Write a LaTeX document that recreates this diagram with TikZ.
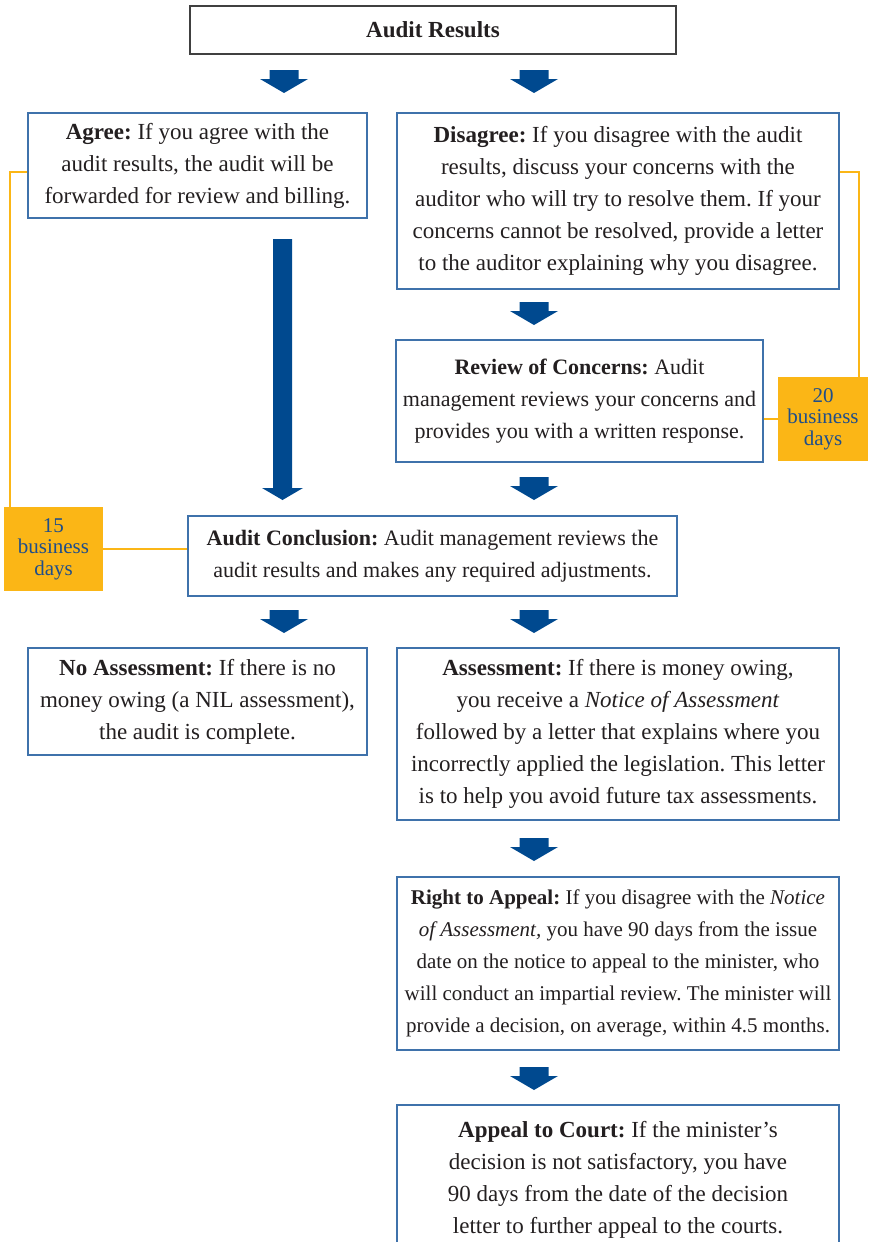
\documentclass[tikz,border=0pt]{standalone}
\usepackage{fontspec}
\setmainfont{Liberation Serif}
\frenchspacing
\definecolor{boxblue}{HTML}{3F72AB}
\definecolor{arrowblue}{HTML}{00498F}
\definecolor{gold}{HTML}{FBB616}
\definecolor{goldtext}{HTML}{1F4E8A}
\definecolor{txt}{HTML}{231F20}
\begin{document}
\begin{tikzpicture}[x=1pt,y=-1pt,
  every node/.style={font=\fontsize{23}{32}\selectfont, text=txt, inner sep=0pt, align=center},
  stagebox/.style={draw=boxblue, line width=1.4pt, fill=white},
  titlebox/.style={draw=black!75, line width=1.4pt},
  daysbox/.style={fill=gold, text=goldtext, font=\fontsize{21}{21.5}\selectfont},
  goldline/.style={draw=gold, line width=2pt},
  fatarrow/.pic={\fill[arrowblue] (-14.5,0) -- (14.5,0) -- (14.5,9) -- (24,9) -- (0,23) -- (-24,9) -- (-14.5,9) -- cycle;}
]
\useasboundingbox (0,0) rectangle (869,1242);
\clip (0,0) rectangle (869,1242);

\node[titlebox, minimum width=486, minimum height=48] (title) at (433,30) {\textbf{Audit Results}};

\node[stagebox, minimum width=339, minimum height=105] (agree) at (197.5,165.5)
 {\textbf{Agree:} If you agree with the\\audit results, the audit will be\\forwarded for review and billing.};

\node[stagebox, minimum width=442, minimum height=176] (disagree) at (618,201)
 {\textbf{Disagree:} If you disagree with the audit\\results, discuss your concerns with the\\auditor who will try to resolve them. If your\\concerns cannot be resolved, provide a letter\\to the auditor explaining why you disagree.};

\node[stagebox, minimum width=367, minimum height=122, font=\fontsize{22}{32}\selectfont] (review) at (579.5,401)
 {\textbf{Review of Concerns:} Audit\\management reviews your concerns and\\provides you with a written response.};

\node[stagebox, minimum width=489, minimum height=80, font=\fontsize{22}{32}\selectfont] (conclusion) at (432.5,556)
 {\textbf{Audit Conclusion:} Audit management reviews the\\audit results and makes any required adjustments.};

\node[stagebox, minimum width=339, minimum height=107] (noassess) at (197.5,701.5)
 {\textbf{No Assessment:} If there is no\\money owing (a NIL assessment),\\the audit is complete.};

\node[stagebox, minimum width=442, minimum height=172] (assess) at (618,734)
 {\textbf{Assessment:} If there is money owing,\\you receive a \textit{Notice of Assessment}\\followed by a letter that explains where you\\incorrectly applied the legislation. This letter\\is to help you avoid future tax assessments.};

\node[stagebox, minimum width=442, minimum height=173, font=\fontsize{21}{32}\selectfont] (appeal) at (618,963.5)
 {\textbf{Right to Appeal:} If you disagree with the \textit{Notice}\\\textit{of Assessment,} you have 90 days from the issue\\date on the notice to appeal to the minister, who\\will conduct an impartial review. The minister will\\provide a decision, on average, within 4.5 months.};

\node[stagebox, minimum width=442, minimum height=150] (court) at (618,1180)
 {\textbf{Appeal to Court:} If the minister’s\\decision is not satisfactory, you have\\90 days from the date of the decision\\letter to further appeal to the courts.};

\node[daysbox, minimum width=99, minimum height=84] (days15) at (53.5,549) {15\\business\\days};
\node[daysbox, minimum width=90, minimum height=84] (days20) at (823,419) {20\\business\\days};

% timing lines
\draw[goldline] (agree.west) ++(0,6.5) -- ++(-17,0) coordinate (c1) -- (c1 |- days15.north);
\draw[goldline] (days15.east) -- (conclusion.west |- days15.east);
\draw[goldline] (disagree.east) ++(0,-29) -- ++(19,0) coordinate (c2) -- (c2 |- days20.north);
\draw[goldline] (review.east |- days20.west) -- (days20.west);

% flow arrows
\pic at (284,70) {fatarrow};
\pic at (534,70) {fatarrow};
\pic at (534,302) {fatarrow};
\pic at (534,477) {fatarrow};
\pic at (284,610) {fatarrow};
\pic at (534,610) {fatarrow};
\pic at (534,838) {fatarrow};
\pic at (534,1067) {fatarrow};
\fill[arrowblue] (273,239) -- (292,239) -- (292,488) -- (303,488) -- (282.5,500) -- (262,488) -- (273,488) -- cycle;
\end{tikzpicture}
\end{document}
